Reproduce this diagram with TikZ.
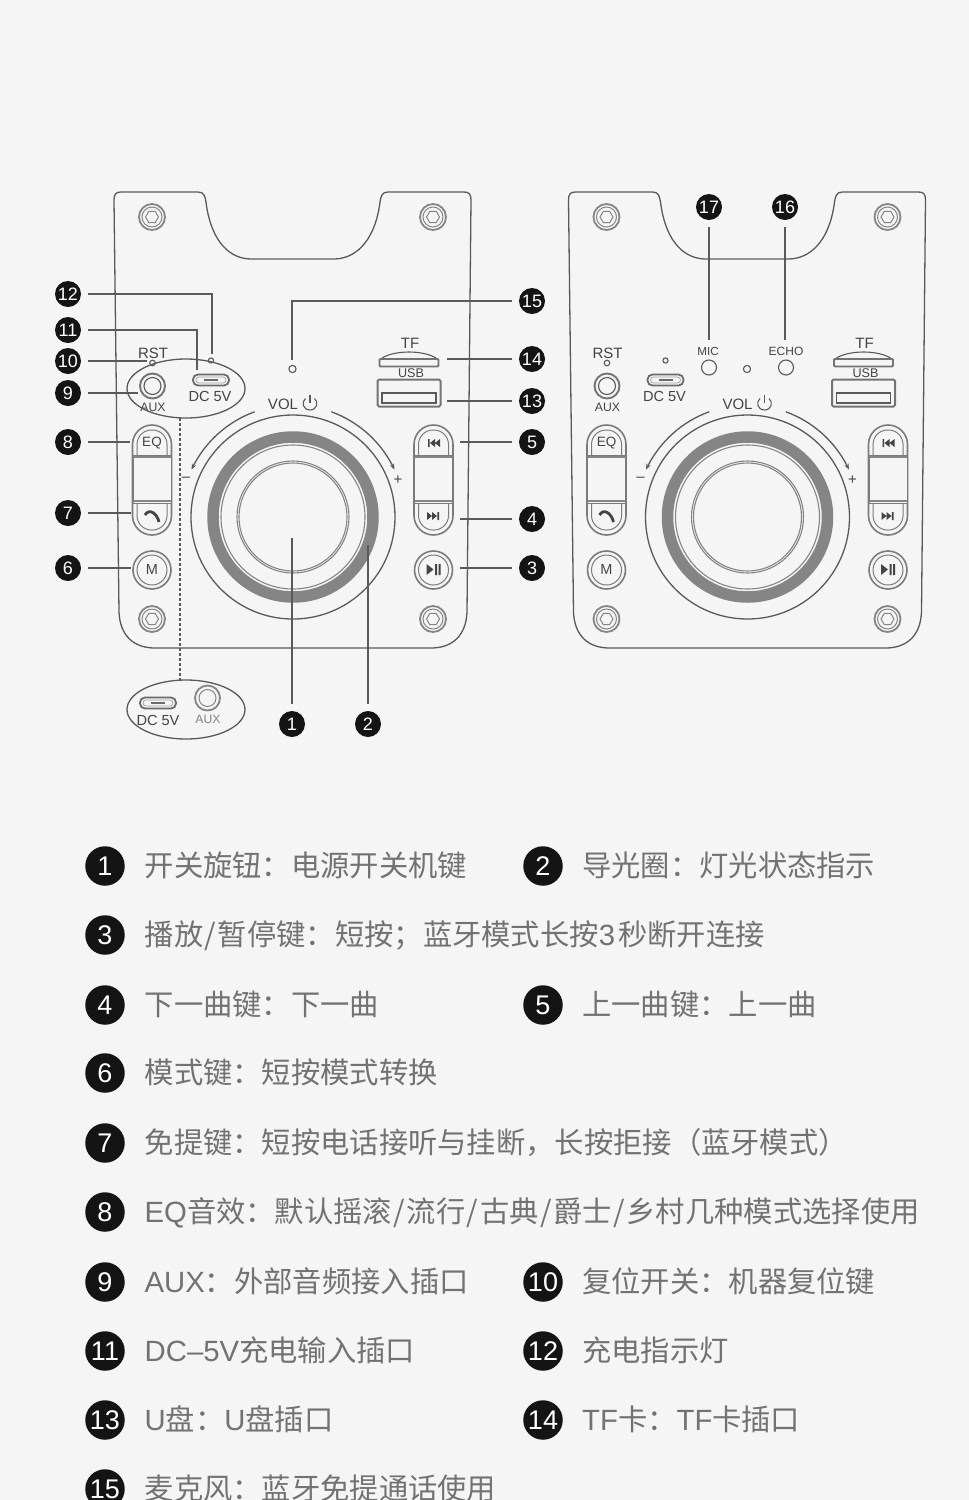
\documentclass[tikz,border=0pt]{standalone}
\usepackage{fontspec}
\setmainfont{Liberation Sans}
\newfontfamily\cjk{Noto Sans CJK SC}
\newfontfamily\latf{Liberation Sans}
\usetikzlibrary{arrows.meta,shapes.geometric,bending}
\definecolor{bgc}{HTML}{F5F5F5}
\definecolor{linec}{HTML}{5A5A5A}
\definecolor{ringc}{HTML}{858585}
\definecolor{labc}{HTML}{444444}
\definecolor{legc}{HTML}{727272}
\definecolor{badgec}{HTML}{141414}
\definecolor{microc}{HTML}{6A6A6A}
\definecolor{microin}{HTML}{A0A0A0}
\newcommand{\fsz}[1]{\fontsize{#1}{#1}\selectfont}
\newcommand{\slsh}{\kern1.6pt/\kern1.6pt}
\tikzset{
  x=1pt,y=-1pt,
  outline/.style={draw=linec,line width=1.3pt},
  thin part/.style={draw=linec,line width=1.1pt},
  thick part/.style={draw=linec!85,line width=1.9pt},
  conn/.style={draw=linec,line width=1.4pt},
  badge/.style={circle,fill=badgec,text=white,inner sep=0pt,minimum size=26pt,font=\fsz{18}},
  bigbadge/.style={circle,fill=badgec,text=white,inner sep=0pt,minimum size=39.5pt,font=\fsz{27}},
  lab/.style={inner sep=0pt,text=labc,font=\fsz{14.6}},
  faint/.style={inner sep=0pt,text=ringc,font=\fsz{12.2}},
  legend text/.style={anchor=base west,inner sep=0pt,text=legc,font=\cjk\fsz{29.3}},
  icon/.style={fill=labc,draw=none},
}
\newcommand{\myscrew}[2]{%
  \draw[draw=ringc,line width=1.8pt] (#1,#2) circle[radius=13];
  \draw[draw=ringc,line width=1pt] (#1,#2) circle[radius=10];
  \draw[draw=ringc,line width=1pt] (#1-6.5,#2) -- (#1-3.2,#2-5.6) -- (#1+3.2,#2-5.6) -- (#1+6.5,#2) -- (#1+3.2,#2+5.6) -- (#1-3.2,#2+5.6) -- cycle;
}
\newcommand{\mymicro}[2]{% x, y
  \draw[draw=microc,line width=1.8pt,rounded corners=5pt] (#1-18,#2-5.5) rectangle (#1+18,#2+5.5);
  \draw[draw=microin,line width=.7pt,rounded corners=3pt] (#1-15,#2-3) rectangle (#1+15,#2+3);
  \fill[microc] (#1-7,#2-1.3) rectangle (#1+7,#2+1.3);
}
\newcommand{\mycapsule}[1]{% centre x
  \draw[draw=linec!80,line width=1.6pt,rounded corners=19.5pt] (#1-19.5,425) rectangle (#1+19.5,535);
  \draw[draw=linec!80,line width=1pt,rounded corners=14.5pt] (#1-15,430) rectangle (#1+15,530);
  \draw[draw=linec!80,line width=1pt,fill=bgc] (#1-19,455) rectangle (#1+19,503);
  \draw[draw=ringc,line width=2.4pt] (#1-19,457) -- (#1+19,457);
  \draw[draw=ringc,line width=2.4pt] (#1-19,501) -- (#1+19,501);
}
\newcommand{\myround}[1]{% centre x
  \draw[draw=linec!80,line width=1.6pt] (#1,570) circle[radius=19];
  \draw[draw=linec!80,line width=1pt] (#1,570) circle[radius=15];
}
\newcommand{\drawpanel}[2]{% suffix, xshift
\begin{scope}[xshift=#2]
  \draw[outline] (114,200) .. controls (114,194) and (116,192) .. (121,192) -- (198,192)
    .. controls (204,192) and (205,196) .. (206,202) .. controls (210,235) and (225,258) .. (250,259)
    -- (335,259) .. controls (360,258) and (376,235) .. (380,202)
    .. controls (381,196) and (382,192) .. (388,192) -- (464,192)
    .. controls (469,192) and (471,194) .. (471,200) -- (467,612)
    .. controls (466,636) and (452,648) .. (431,648) -- (155,648)
    .. controls (134,648) and (120,636) .. (119,612) -- cycle;
  \myscrew{152}{217}\myscrew{433}{217}\myscrew{152}{619}\myscrew{433}{619}
  % knob
  \draw[outline] (293,517) circle[radius=102];
  \draw[draw=ringc,line width=11.5pt] (293,517) circle[radius=80];
  \draw[thin part,draw=ringc] (293,517) circle[radius=72];
  \draw[thin part,draw=ringc] (293,517) circle[radius=56];
  \draw[thin part,draw=ringc] (293,517) circle[radius=54];
  \draw[outline,-{Stealth[length=6pt,width=4.5pt]}] ([shift={(293,517)}]-110:112) arc[start angle=-110,end angle=-155,radius=112];
  \draw[outline,-{Stealth[length=6pt,width=4.5pt]}] ([shift={(293,517)}]-70:112) arc[start angle=-70,end angle=-25,radius=112];
  \node[lab,font=\fsz{15}] (vol#1) at (283,404) {VOL};
  \draw[thin part] (305.5,398.5) .. controls (301,402) and (303,410) .. (310,410) .. controls (317,410) and (319,402) .. (314.5,398.5);
  \draw[thin part] (310,395) -- (310,403);
  \node[lab,font=\fsz{15}] (minus#1) at (186,479) {–};
  \node[lab,font=\fsz{15}] (plus#1) at (398,480) {+};
  % capsules
  \mycapsule{152}\mycapsule{433.5}
  \myround{152}\myround{433.5}
  \node[lab,font=\fsz{13.5}] (eq#1) at (152,443) {EQ};
  \node[lab,font=\fsz{14.5}] (m#1) at (152,570) {M};
  \draw[draw=labc,line width=2.8pt] (145,515) .. controls (149,508) and (157,513) .. (159,522);
  % transport icons
  \fill[icon] (428,439) rectangle (429.7,447) (440,439) -- (440,447) -- (435,443) -- cycle (435,439) -- (435,447) -- (430,443) -- cycle;
  \fill[icon] (439,512) rectangle (437.3,520) (427,512) -- (427,520) -- (432,516) -- cycle (432,512) -- (432,520) -- (437,516) -- cycle;
  \fill[icon] (426.5,564) -- (426.5,575) -- (433.5,569.5) -- cycle (435,564) rectangle (437,575) (438.5,564) rectangle (440.5,575);
  % jacks
  \node[lab,font=\fsz{15}] (rst#1) at (153,353) {RST};
  \draw[thin part] (152.5,363) circle[radius=2.8];
  \draw[thick part] (152.5,386) circle[radius=12.5];
  \draw[thin part] (152.5,386) circle[radius=8.5];
  \node[lab,font=\fsz{12.2}] (aux#1) at (153,407) {AUX};
  \mymicro{211}{380}
  \draw[thin part] (211,360.5) circle[radius=2.6];
  \node[lab] (dc#1) at (210,396) {DC 5V};
  % LED
  \draw[thin part] (292.5,369) circle[radius=3.6];
  % TF and USB
  \node[lab,font=\fsz{15}] (tf#1) at (410,343) {TF};
  \draw[thick part,rounded corners=1pt] (379.5,359) rectangle (438.5,366.5);
  \draw[thin part] (382,358) .. controls (395,350) and (423,350) .. (436,358);
  \node[lab,font=\fsz{12.6}] (usb#1) at (411,373) {USB};
  \draw[draw=linec!85,line width=2pt,rounded corners=1.5pt] (377.5,379.5) rectangle (440.5,406.5);
  \draw[thin part] (382,393) rectangle (436,403);
\end{scope}
}
\newcommand{\lgrow}[6]{% name, x, y, number, text x offset, text
  \node[bigbadge] (lb#1) at (#2,#3) {#4};
  \node[legend text] (lt#1) at (#2+#5,#3+10.5) {#6};
}
\begin{document}
\begin{tikzpicture}
\useasboundingbox (0,0) rectangle (969,1500);
\clip (0,0) rectangle (969,1500);
\fill[bgc] (0,0) rectangle (969,1500);

\drawpanel{a}{0}
\drawpanel{b}{454.5}

% right-hand panel extras
\node[lab,font=\fsz{11.7}] (mic) at (708,351) {MIC};
\node[lab,font=\fsz{12}] (echo) at (786,351) {ECHO};
\draw[thin part] (709,367.5) circle[radius=7.5];
\draw[thin part] (786,367.5) circle[radius=7.5];

% port ellipses
\node[draw=linec,line width=1.3pt,ellipse,minimum width=118pt,minimum height=59pt,inner sep=0pt] (ell1) at (186,388.5) {};
\node[draw=linec,line width=1.3pt,ellipse,minimum width=118pt,minimum height=59pt,inner sep=0pt] (ell2) at (186,709.5) {};
\draw[draw=linec,line width=1.1pt,densely dashed] (180,418) -- (180,680);
\mymicro{158}{703}
\node[lab] (dc2) at (158,720) {DC 5V};
\draw[draw=ringc,line width=1.8pt] (207.5,698) circle[radius=12.5];
\draw[draw=ringc,line width=1pt] (207.5,698) circle[radius=8.5];
\node[faint] (aux2) at (208,719) {AUX};

% connector ends
\coordinate (t1) at (292,538);
\coordinate (t2) at (368,545);
\coordinate (t3) at (460,568);
\coordinate (t4) at (460,519);
\coordinate (t5) at (460,442);
\coordinate (t6) at (131,568);
\coordinate (t7) at (131,513);
\coordinate (t8) at (130,442);
\coordinate (t9) at (138,393);
\coordinate (t10) at (147,361);
\coordinate (t11) at (197,370);
\coordinate (t12) at (212,354);
\coordinate (t13) at (447,401);
\coordinate (t14) at (447,359);
\coordinate (t15) at (292,360);
\coordinate (t16) at (785,340);
\coordinate (t17) at (709,340);

% small badges
\node[badge] (b1) at (292,724) {1};
\node[badge] (b2) at (368,724) {2};
\node[badge] (b3) at (532,568) {3};
\node[badge] (b4) at (532,519) {4};
\node[badge] (b5) at (532,442) {5};
\node[badge] (b6) at (68,568) {6};
\node[badge] (b7) at (68,513) {7};
\node[badge] (b8) at (68,442) {8};
\node[badge] (b9) at (68,393) {9};
\node[badge] (b10) at (68,361) {10};
\node[badge] (b11) at (68,330) {11};
\node[badge] (b12) at (68,294) {12};
\node[badge] (b13) at (532,401) {13};
\node[badge] (b14) at (532,359) {14};
\node[badge] (b15) at (532,301) {15};
\node[badge] (b16) at (785,207) {16};
\node[badge] (b17) at (709,207) {17};

% connectors
\begin{scope}[every path/.style={conn,shorten <=7pt}]
\draw (b1) -- (t1);
\draw (b2) -- (t2);
\draw (b3) -- (t3);
\draw (b4) -- (t4);
\draw (b5) -- (t5);
\draw (b6) -- (t6);
\draw (b7) -- (t7);
\draw (b8) -- (t8);
\draw (b9) -- (t9);
\draw (b10) -- (t10);
\draw (b11) -| (t11);
\draw (b12) -| (t12);
\draw (b13) -- (t13);
\draw (b14) -- (t14);
\draw (b15) -| (t15);
\draw (b16) -- (t16);
\draw (b17) -- (t17);
\end{scope}

% legend
\lgrow{1}{105}{866}{1}{39.5}{开关旋钮：电源开关机键}
\lgrow{2}{543}{866}{2}{39}{导光圈：灯光状态指示}
\lgrow{3}{105}{935}{3}{39.5}{播放\slsh 暂停键：短按；蓝牙模式长按{\latf 3}\kern3pt 秒断开连接}
\lgrow{4}{105}{1005}{4}{39.5}{下一曲键：下一曲}
\lgrow{5}{543}{1005}{5}{39}{上一曲键：上一曲}
\lgrow{6}{105}{1073}{6}{39.5}{模式键：短按模式转换}
\lgrow{7}{105}{1143}{7}{39.5}{免提键：短按电话接听与挂断，长按拒接（蓝牙模式）}
\lgrow{8}{105}{1212}{8}{39.5}{{\latf EQ}音效：默认摇滚\slsh 流行\slsh 古典\slsh 爵士\slsh 乡村几种模式选择使用}
\lgrow{9}{105}{1282}{9}{39.5}{{\latf AUX}：外部音频接入插口}
\lgrow{10}{543}{1282}{10}{39}{复位开关：机器复位键}
\lgrow{11}{105}{1351}{11}{39.5}{{\latf DC–5V}充电输入插口}
\lgrow{12}{543}{1351}{12}{39}{充电指示灯}
\lgrow{13}{105}{1420}{13}{39.5}{{\latf U}盘：{\latf U}盘插口}
\lgrow{14}{543}{1420}{14}{39}{{\latf TF}卡：{\latf TF}卡插口}
\lgrow{15}{105}{1489}{15}{39.5}{麦克风：蓝牙免提通话使用}
\end{tikzpicture}
\end{document}
